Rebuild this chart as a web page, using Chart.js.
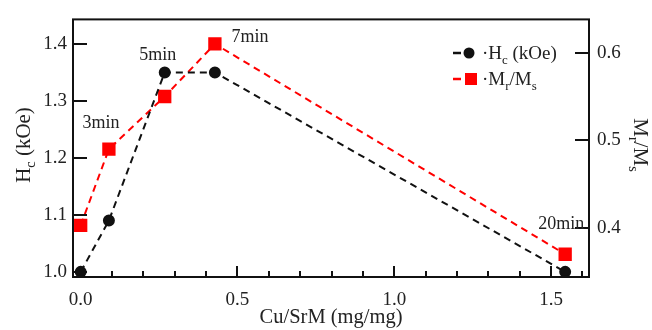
<!DOCTYPE html>
<html><head><meta charset="utf-8">
<script src="https://cdn.jsdelivr.net/npm/chart.js@4.4.0/dist/chart.umd.min.js"></script>
<style>html,body{margin:0;padding:0;background:#fff}#wrap{width:652px;height:330px}</style>
</head><body><div id="wrap"><canvas id="c" width="652" height="330"></canvas></div>
<script>
// ---- data ----
const cuSrM = [0.0, 0.09, 0.268, 0.428, 1.545];
const hcValues = [1.0, 1.09, 1.35, 1.35, 1.0];
const mrMsValues = [0.403, 0.49, 0.55, 0.61, 0.37];
const timeLabels = ['', '3min', '5min', '7min', '20min'];
const xTicks = [0.0, 0.5, 1.0, 1.5];
const xMinorTicks = [0.1, 0.2, 0.3, 0.4, 0.6, 0.7, 0.8, 0.9, 1.1, 1.2, 1.3, 1.4, 1.6];
const hcTicks = [1.0, 1.1, 1.2, 1.3, 1.4];
const mrMsTicks = [0.4, 0.5, 0.6];

const FONT = '"Liberation Serif", "Times New Roman", serif';
const TXT = '#222';

function drawRich(ctx, parts, x, y, size, align) {
  let w = 0;
  const widths = parts.map(p => {
    ctx.font = (p.sub ? size * 0.68 : size) + 'px ' + FONT;
    const m = ctx.measureText(p.t).width; w += m; return m;
  });
  let cx = align === 'center' ? x - w / 2 : (align === 'right' ? x - w : x);
  ctx.textAlign = 'left'; ctx.textBaseline = 'alphabetic';
  parts.forEach((p, i) => {
    ctx.font = (p.sub ? size * 0.68 : size) + 'px ' + FONT;
    ctx.fillText(p.t, cx, y + (p.sub ? size * 0.25 : 0));
    cx += widths[i];
  });
}

const decor = {
  id: 'decor',
  afterDraw(chart) {
    const ctx = chart.ctx, a = chart.chartArea;
    const sx = chart.scales.x, sy = chart.scales.y, sy1 = chart.scales.y1;
    ctx.save();
    ctx.strokeStyle = '#111'; ctx.lineWidth = 2;
    ctx.strokeRect(a.left, a.top, a.right - a.left, a.bottom - a.top);
    ctx.beginPath();
    hcTicks.forEach(v => { const p = Math.round(sy.getPixelForValue(v)); ctx.moveTo(a.left, p); ctx.lineTo(a.left + 14, p); });
    mrMsTicks.forEach(v => { const p = Math.round(sy1.getPixelForValue(v)); ctx.moveTo(a.right, p); ctx.lineTo(a.right - 14, p); });
    xTicks.forEach(v => { const p = Math.round(sx.getPixelForValue(v)); ctx.moveTo(p, a.bottom); ctx.lineTo(p, a.bottom - 11); });
    xMinorTicks.forEach(v => { const p = Math.round(sx.getPixelForValue(v)); ctx.moveTo(p, a.bottom); ctx.lineTo(p, a.bottom - 6); });
    ctx.stroke();

    ctx.fillStyle = TXT;
    // axis titles
    drawRich(ctx, [{t: 'Cu/SrM (mg/mg)'}], (a.left + a.right) / 2, 323, 20.5, 'center');
    ctx.save(); ctx.translate(30, 145); ctx.rotate(-Math.PI / 2);
    drawRich(ctx, [{t: 'H'}, {t: 'c', sub: true}, {t: ' (kOe)'}], 0, 0, 21, 'center');
    ctx.restore();
    ctx.save(); ctx.translate(634, 145); ctx.rotate(Math.PI / 2);
    drawRich(ctx, [{t: 'M'}, {t: 'r', sub: true}, {t: '/M'}, {t: 's', sub: true}], 0, 0, 21, 'center');
    ctx.restore();

    // time annotations
    const offs = [null, [-8, -22], [-7, -13], [35, -3], [-4, -26]];
    const refs = [null, 'r', 'b', 'r', 'r'];
    timeLabels.forEach((t, i) => {
      if (!t) return;
      const yv = refs[i] === 'r' ? sy1.getPixelForValue(mrMsValues[i]) : sy.getPixelForValue(hcValues[i]);
      const xp = sx.getPixelForValue(cuSrM[i]);
      drawRich(ctx, [{t}], xp + offs[i][0], yv + offs[i][1] + 1, 18, 'center');
    });

    // legend
    const lx = 453;
    [[53, '#111', 'circle', [{t: '·H'}, {t: 'c', sub: true}, {t: ' (kOe)'}]],
     [79, '#f00', 'rect', [{t: '·M'}, {t: 'r', sub: true}, {t: '/M'}, {t: 's', sub: true}]]].forEach(([y, col, shape, parts]) => {
      ctx.strokeStyle = col; ctx.lineWidth = 2.5;
      ctx.beginPath(); ctx.moveTo(lx, y); ctx.lineTo(lx + 8, y); ctx.stroke();
      ctx.fillStyle = col;
      if (shape === 'circle') { ctx.beginPath(); ctx.arc(lx + 16, y, 5.5, 0, Math.PI * 2); ctx.fill(); }
      else ctx.fillRect(lx + 12, y - 6, 12, 12);
      ctx.fillStyle = TXT;
      drawRich(ctx, parts, lx + 29, y + 6, 19, 'left');
    });
    ctx.restore();
  }
};

const setTicks = arr => scale => { scale.ticks = arr.map(v => ({value: v})); };

new Chart(document.getElementById('c'), {
  type: 'line',
  data: {
    datasets: [
      { label: 'Hc (kOe)', data: cuSrM.map((x, i) => ({x, y: hcValues[i]})), yAxisID: 'y',
        borderColor: '#111', backgroundColor: '#111', borderWidth: 2, borderDash: [7, 5],
        pointStyle: 'circle', pointRadius: 5, pointHoverRadius: 5, tension: 0, clip: false },
      { label: 'Mr/Ms', data: cuSrM.map((x, i) => ({x, y: mrMsValues[i]})), yAxisID: 'y1',
        borderColor: '#f00', backgroundColor: '#f00', borderWidth: 2, borderDash: [7, 5],
        pointStyle: 'rect', pointRadius: 8, pointHoverRadius: 8, tension: 0, clip: false }
    ]
  },
  options: {
    responsive: false, animation: false, devicePixelRatio: 1,
    layout: { padding: { top: 13, left: 0, right: 0, bottom: 0 } },
    plugins: { legend: { display: false }, tooltip: { enabled: false } },
    scales: {
      x: { type: 'linear', min: -0.0245, max: 1.621,
        afterFit: s => { s.height = 53; }, afterBuildTicks: setTicks(xTicks),
        grid: { display: false, drawTicks: false }, border: { display: false },
        ticks: { padding: 12, color: TXT, font: { family: FONT, size: 19 }, callback: v => v.toFixed(1), maxRotation: 0 } },
      y: { type: 'linear', position: 'left', min: 0.991, max: 1.443,
        afterFit: s => { s.width = 73; }, afterBuildTicks: setTicks(hcTicks),
        grid: { display: false, drawTicks: false }, border: { display: false },
        ticks: { padding: 6, color: TXT, font: { family: FONT, size: 19 }, callback: v => v.toFixed(1) } },
      y1: { type: 'linear', position: 'right', min: 0.344, max: 0.638,
        afterFit: s => { s.width = 63; }, afterBuildTicks: setTicks(mrMsTicks),
        grid: { display: false, drawTicks: false }, border: { display: false },
        ticks: { padding: 8, color: TXT, font: { family: FONT, size: 19 }, callback: v => v.toFixed(1) } }
    }
  },
  plugins: [decor]
});
</script></body></html>
